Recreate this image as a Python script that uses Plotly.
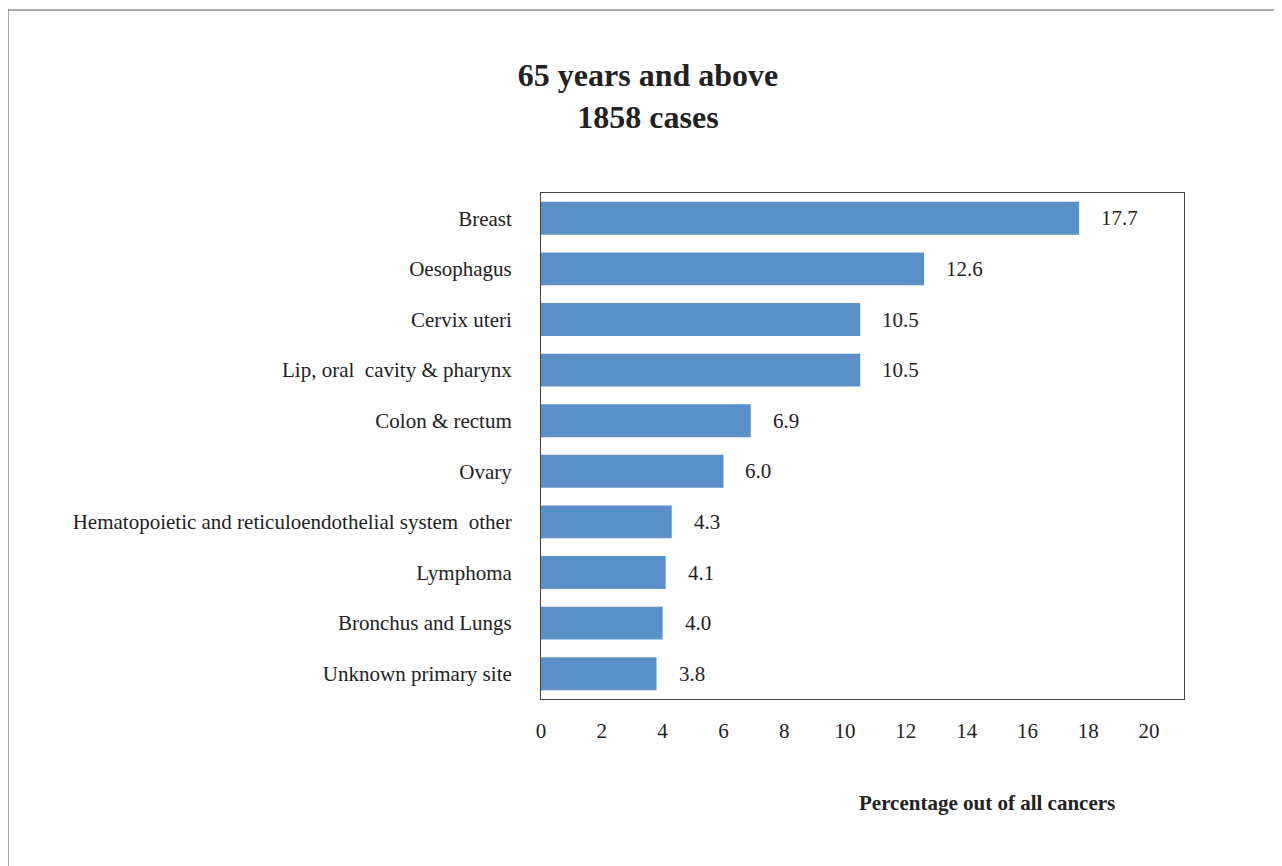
import plotly.graph_objects as go

categories = [
    "Breast",
    "Oesophagus",
    "Cervix uteri",
    "Lip, oral  cavity & pharynx",
    "Colon & rectum",
    "Ovary",
    "Hematopoietic and reticuloendothelial system  other",
    "Lymphoma",
    "Bronchus and Lungs",
    "Unknown primary site",
]
values = [17.7, 12.6, 10.5, 10.5, 6.9, 6.0, 4.3, 4.1, 4.0, 3.8]
value_labels = ["17.7", "12.6", "10.5", "10.5", "6.9", "6.0", "4.3", "4.1", "4.0", "3.8"]
x_ticks = [0, 2, 4, 6, 8, 10, 12, 14, 16, 18, 20]

# page body has an 8px margin; work in page coordinates minus 8
OFF = 8
W, H = 1282 - OFF, 866 - OFF
L, R, T, B = 541 - OFF, 1184 - OFF, 193 - OFF, 699 - OFF
FONT = "Liberation Serif, Times New Roman, serif"
TXT = "#222222"
FS = 21

fig = go.Figure()
fig.add_trace(go.Bar(
    y=categories, x=values, orientation="h",
    marker=dict(color="#5B8FC7", line=dict(width=0)),
    hoverinfo="x+y",
))

for c, v, t in zip(categories, values, value_labels):
    fig.add_annotation(x=v, y=c, xref="x", yref="y", text=t, showarrow=False,
                       xanchor="left", xshift=20, font=dict(family=FONT, size=FS, color=TXT))

fig.add_annotation(x=(987 - OFF - L) / (R - L), y=(B - (803 - OFF)) / (B - T),
                   xref="paper", yref="paper",
                   text="<b>Percentage out of all cancers</b>", showarrow=False,
                   xanchor="center", yanchor="middle",
                   font=dict(family=FONT, size=FS, color=TXT))

# outer frame
fig.add_shape(type="rect", xref="paper", yref="paper",
              x0=(8 - OFF - L) / (R - L), x1=(1300 - L) / (R - L),
              y0=(B - 890) / (B - T), y1=(B - (10 - OFF)) / (B - T),
              line=dict(color="#555555", width=1), fillcolor="rgba(0,0,0,0)", layer="below")

fig.update_layout(
    width=W, height=H,
    margin=dict(l=L, r=W - R, t=T, b=H - B, pad=0),
    paper_bgcolor="white", plot_bgcolor="white",
    showlegend=False,
    bargap=0.35,
    font=dict(family=FONT, size=FS, color=TXT),
    title=dict(text="<b>65 years and above<br>1858 cases</b>",
               x=(648 - OFF) / W, xref="container", xanchor="center",
               y=1 - 78 / H, yref="container", yanchor="middle",
               font=dict(family=FONT, size=32, color=TXT)),
    xaxis=dict(range=[0, 21.15], tickvals=x_ticks, ticktext=[str(v) for v in x_ticks],
               showgrid=False, zeroline=False, showline=True, linecolor="#444444",
               linewidth=1, mirror=True, ticks="", ticklabelstandoff=13,
               tickfont=dict(family=FONT, size=FS, color=TXT), fixedrange=True),
    yaxis=dict(categoryorder="array", categoryarray=categories, autorange="reversed",
               showgrid=False, zeroline=False, showline=True, linecolor="#444444",
               linewidth=1, mirror=True, ticks="", ticklabelstandoff=24,
               tickfont=dict(family=FONT, size=FS, color=TXT), fixedrange=True),
)

fig.write_html("out.html")
